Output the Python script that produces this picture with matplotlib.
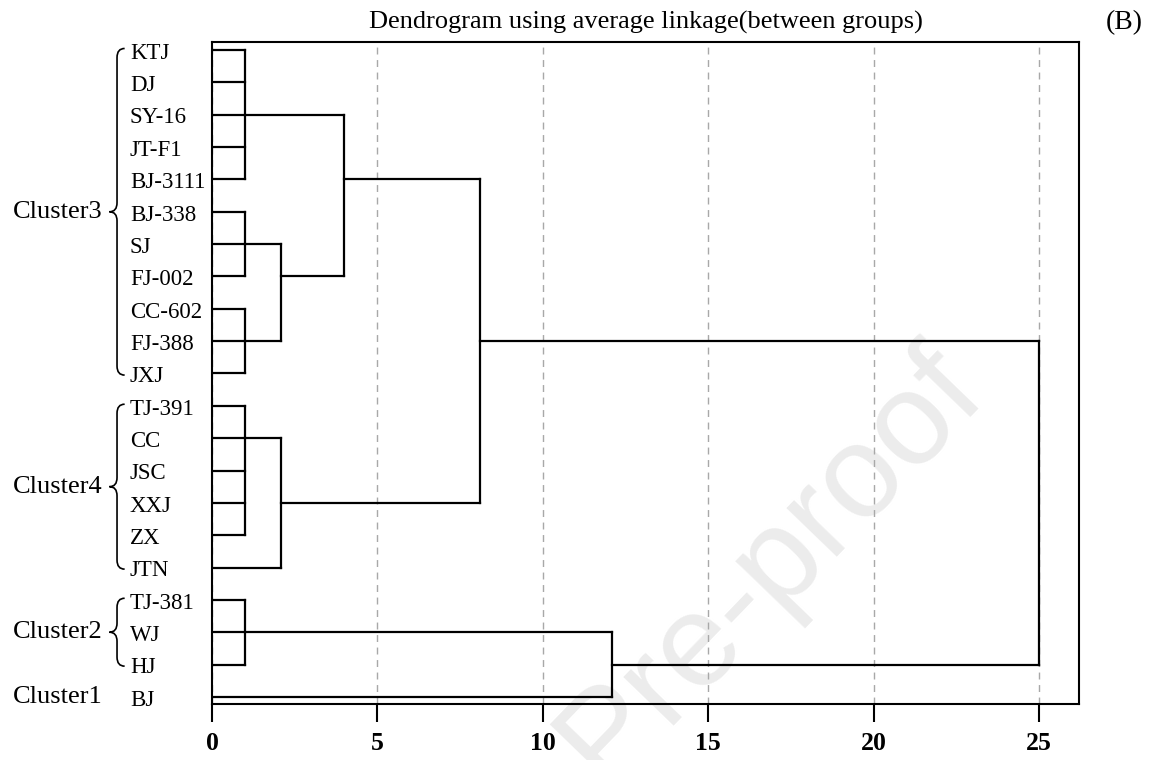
import matplotlib
matplotlib.use("Agg")
import matplotlib.pyplot as plt
from matplotlib.path import Path
from matplotlib.patches import PathPatch

plt.rcParams['font.family'] = ['Liberation Serif', 'DejaVu Serif']

# leaves, top to bottom
leaves = ["KTJ", "DJ", "SY-16", "JT-F1", "BJ-3111", "BJ-338", "SJ", "FJ-002",
          "CC-602", "FJ-388", "JXJ", "TJ-391", "CC", "JSC", "XXJ", "ZX", "JTN",
          "TJ-381", "WJ", "HJ", "BJ"]

# merges: node ids 0..20 are leaves, merge k becomes node 21+k
merge_children = [[0, 1, 2, 3, 4], [5, 6, 7], [8, 9, 10], [22, 23], [21, 24],
                  [11, 12, 13, 14, 15], [26, 16], [25, 27], [17, 18, 19],
                  [29, 20], [28, 30]]
merge_dist = [1.0, 1.0, 1.0, 2.1, 4.0, 1.0, 2.1, 8.1, 1.0, 12.1, 25.0]
# row where the merged cluster's line leaves (SPSS puts it on a leaf row)
merge_row = [2, 6, 9, 7, 4, 12, 14, 9, 18, 19, 16]

cluster_names = ["Cluster3", "Cluster4", "Cluster2", "Cluster1"]
cluster_first = [0, 11, 17, 20]
cluster_last = [10, 16, 19, 20]

tick_vals = [0, 5, 10, 15, 20, 25]
title = "Dendrogram using average linkage(between groups)"


def brace(ax, y0, y1, x_tip=-3.1, x_sp=-2.87, x_end=-2.64, r=0.28):
    ym = (y0 + y1) / 2.0
    verts = [(x_end, y0), (x_sp, y0), (x_sp, y0 + r),
             (x_sp, ym - r), (x_sp, ym), (x_tip, ym),
             (x_sp, ym), (x_sp, ym + r),
             (x_sp, y1 - r), (x_sp, y1), (x_end, y1)]
    codes = [Path.MOVETO, Path.CURVE3, Path.CURVE3,
             Path.LINETO, Path.CURVE3, Path.CURVE3,
             Path.CURVE3, Path.CURVE3,
             Path.LINETO, Path.CURVE3, Path.CURVE3]
    p = PathPatch(Path(verts, codes), fill=False, lw=1.2, color='black', clip_on=False)
    ax.add_patch(p)


fig = plt.figure(figsize=(11.55, 7.6), dpi=100)
ax = fig.add_axes([212 / 1155, 1 - 704 / 760, (1079 - 212) / 1155, (704 - 42) / 760])
ax.set_zorder(2)
ax.set_facecolor('none')

# watermark behind the chart
fig.text(770 / 1155, 1 - 565 / 760, "Pre-proof", fontsize=95, color='#ececec',
         family='Liberation Sans', rotation=46, ha='center', va='center', zorder=0)

height = [0.0] * len(leaves)
row = list(range(len(leaves)))
lw = 1.6
for k, kids in enumerate(merge_children):
    d = merge_dist[k]
    rows = [row[c] for c in kids]
    for c in kids:
        ax.plot([height[c], d], [row[c], row[c]], color='black', lw=lw, zorder=3,
                solid_capstyle='projecting')
    ax.plot([d, d], [min(rows), max(rows)], color='black', lw=lw, zorder=3,
            solid_capstyle='projecting')
    height.append(d)
    row.append(merge_row[k])

for i, name in enumerate(leaves):
    ax.text(-2.48, i + 0.1, name, fontsize=16.5, ha='left', va='center', clip_on=False)

for name, a, b in zip(cluster_names, cluster_first, cluster_last):
    ym = (a + b) / 2.0
    if b > a:
        brace(ax, a - 0.05, b + 0.05)
    ax.text(-3.3, ym, name, fontsize=19, ha='right', va='center', clip_on=False)

ax.set_xlim(0, 26.2)
ax.set_ylim(20.22, -0.25)
ax.set_yticks([])
ax.set_xticks(tick_vals)
ax.set_xticklabels([str(t) for t in tick_vals], fontsize=18.5, fontweight='bold')
ax.tick_params(axis='x', length=13, width=1.5, pad=7, direction='out')
ax.grid(axis='x', linestyle=(0, (5, 4)), color='#a8a8a8', lw=1.0, zorder=1)
for s in ax.spines.values():
    s.set_linewidth(1.5)

fig.text(646 / 1155, 1 - 22 / 760, title, fontsize=19, ha='center', va='center')
fig.text(1124 / 1155, 1 - 23 / 760, "(B)", fontsize=20, ha='center', va='center')

fig.savefig("out.png", dpi=100)
